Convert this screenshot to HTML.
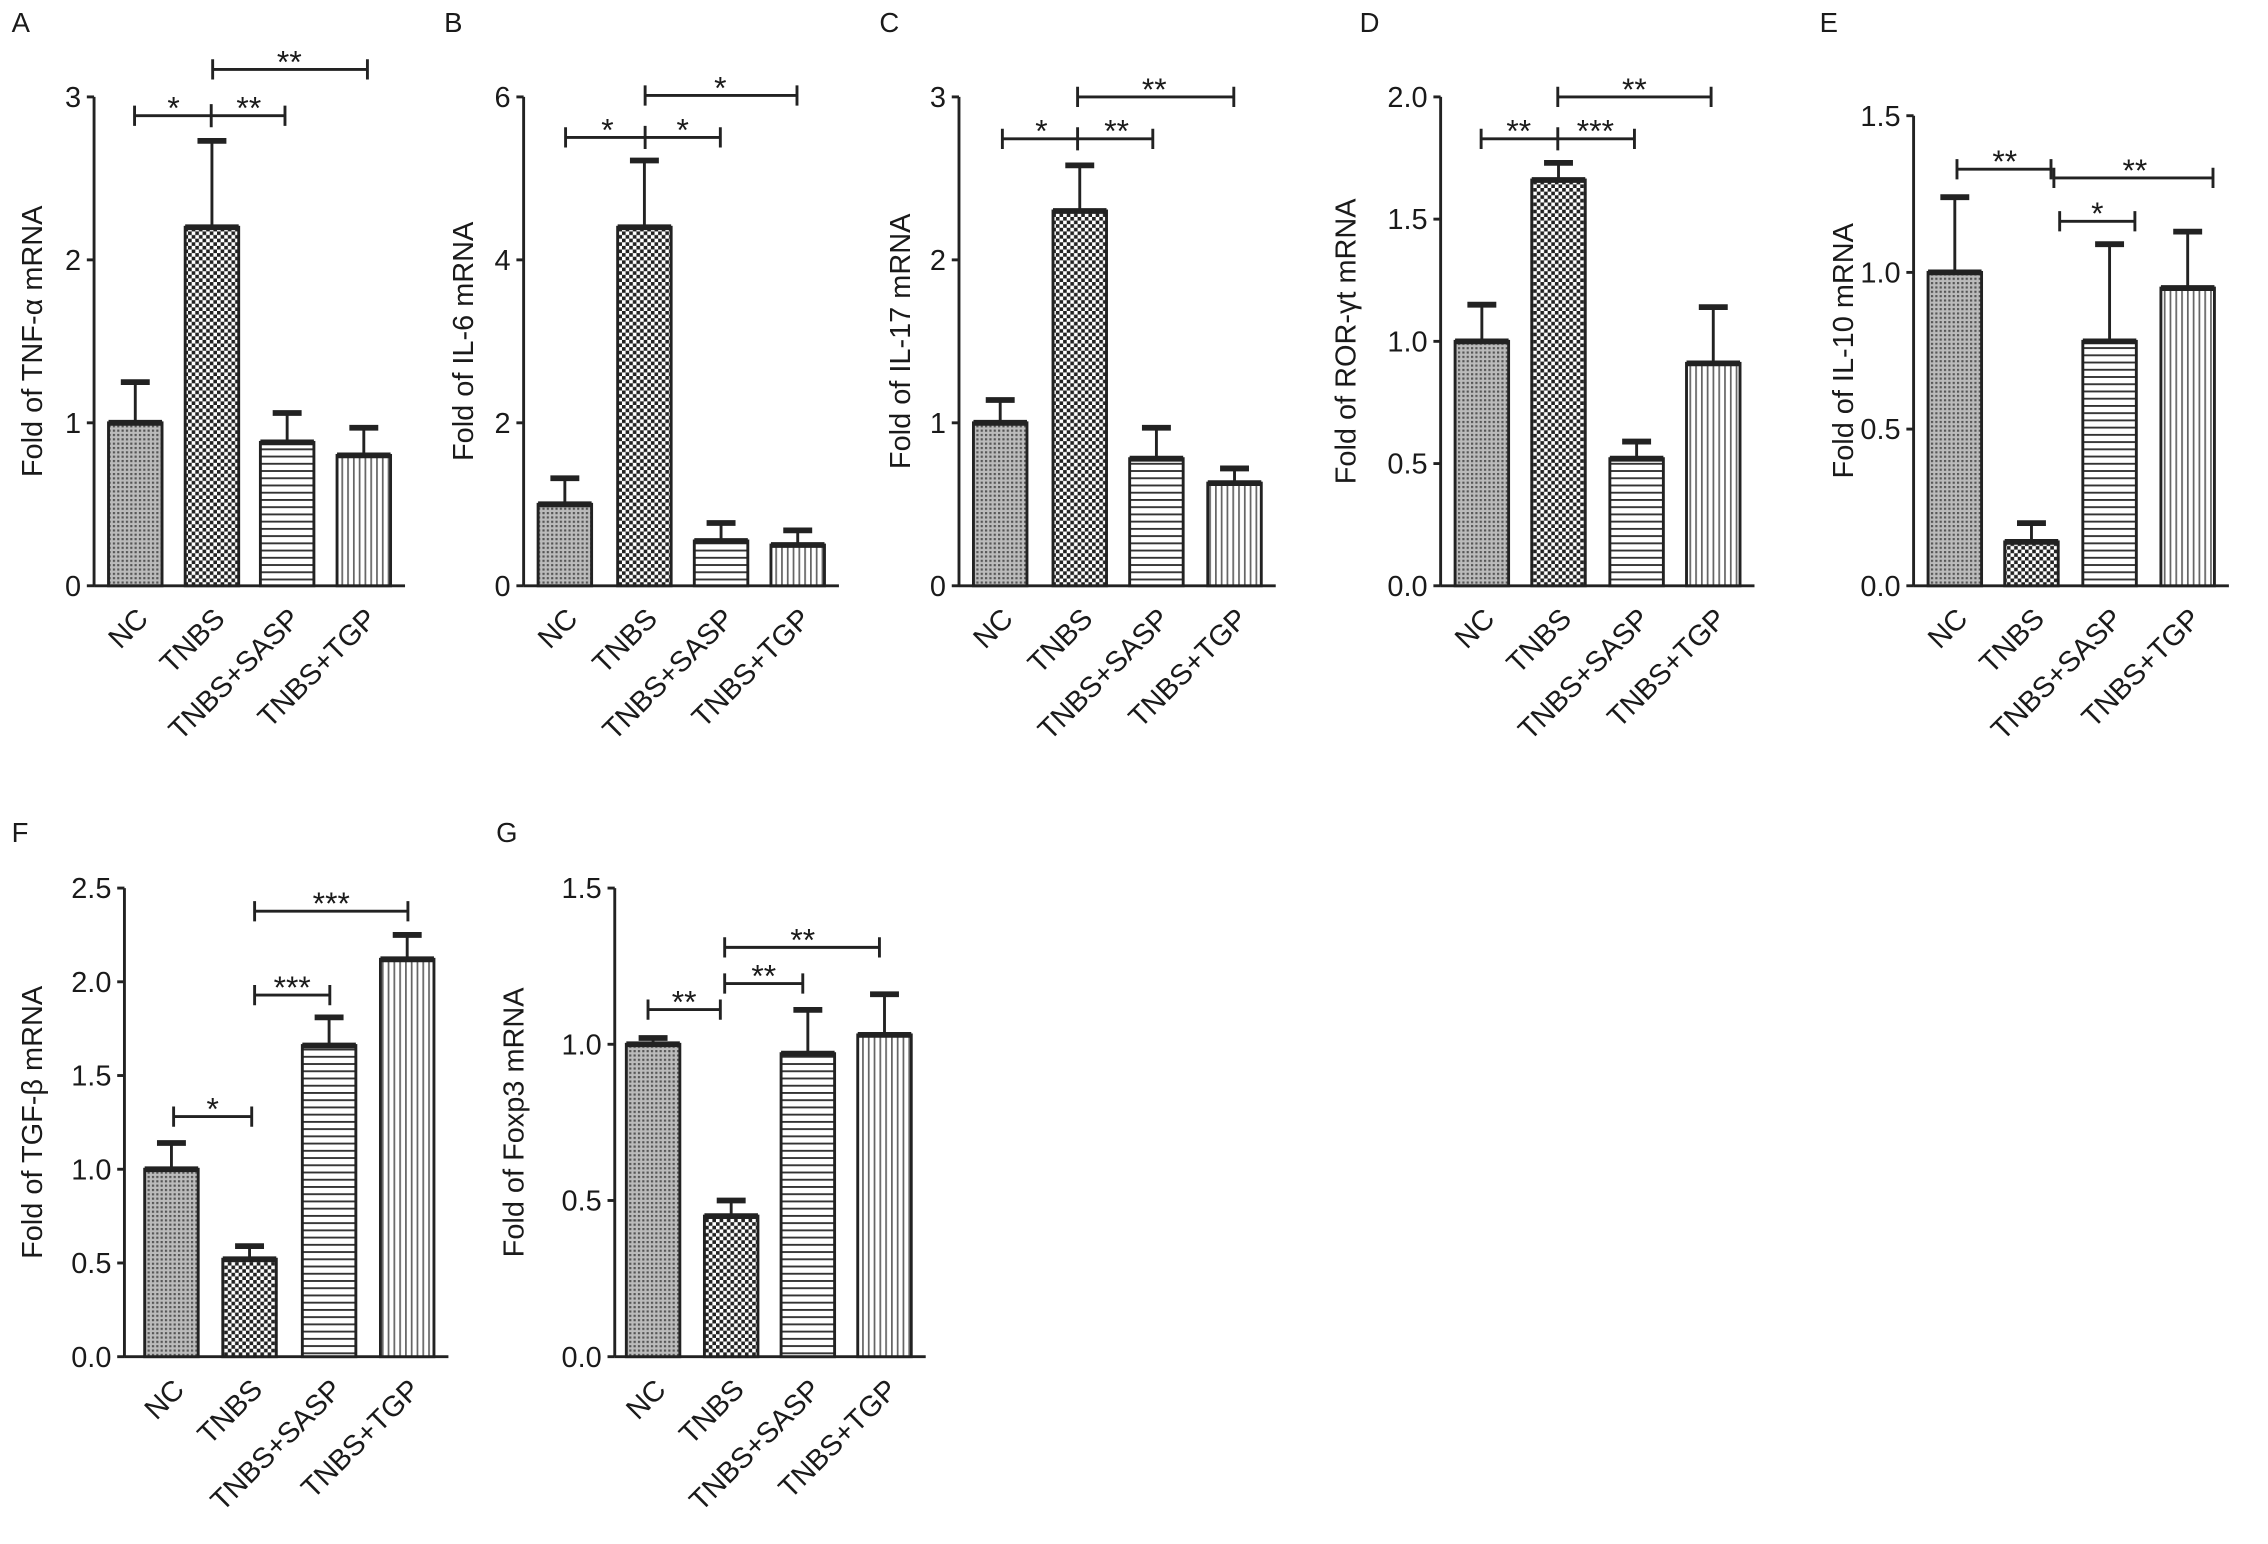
<!DOCTYPE html>
<html><head><meta charset="utf-8"><style>
html,body{margin:0;padding:0;background:#fff}
svg{display:block}
text{font-family:"Liberation Sans",Arial,sans-serif;fill:#1a1a1a}
</style></head><body>
<svg id="chart" width="2268" height="1544" viewBox="0 0 1568 1067.5" xmlns="http://www.w3.org/2000/svg">
<defs>
<pattern id="pNC" width="3" height="3" patternUnits="userSpaceOnUse"><rect width="3" height="3" fill="#bbb"/><rect width="1.5" height="1.5" fill="#555"/></pattern>
<pattern id="pTNBS" width="5" height="5" patternUnits="userSpaceOnUse"><rect width="5" height="5" fill="#fff"/><rect width="2.5" height="2.5" fill="#222"/><rect x="2.5" y="2.5" width="2.5" height="2.5" fill="#222"/></pattern>
<pattern id="pSASP" width="6" height="5" patternUnits="userSpaceOnUse"><rect width="6" height="5" fill="#fff"/><rect width="6" height="1.3" fill="#333"/></pattern>
<pattern id="pTGP" width="4" height="6" patternUnits="userSpaceOnUse"><rect width="4" height="6" fill="#fff"/><rect width="1.2" height="6" fill="#666"/></pattern>
</defs>
</svg>
<script>
const categories = ["NC","TNBS","TNBS+SASP","TNBS+TGP"];
const patterns = ["pNC","pTNBS","pSASP","pTGP"];
const valuesA = [1.0, 2.2, 0.88, 0.8];
const errA = [1.25, 2.73, 1.06, 0.97];
const ticksA = [0,1,2,3];
const valuesB = [1.0, 4.4, 0.55, 0.5];
const errB = [1.32, 5.22, 0.77, 0.68];
const ticksB = [0,2,4,6];
const valuesC = [1.0, 2.3, 0.78, 0.63];
const errC = [1.14, 2.58, 0.97, 0.72];
const ticksC = [0,1,2,3];
const valuesD = [1.0, 1.66, 0.52, 0.91];
const errD = [1.15, 1.73, 0.59, 1.14];
const ticksD = ["0.0","0.5","1.0","1.5","2.0"];
const valuesE = [1.0, 0.14, 0.78, 0.95];
const errE = [1.24, 0.2, 1.09, 1.13];
const ticksE = ["0.0","0.5","1.0","1.5"];
const valuesF = [1.0, 0.52, 1.66, 2.12];
const errF = [1.14, 0.59, 1.81, 2.25];
const ticksF = ["0.0","0.5","1.0","1.5","2.0","2.5"];
const valuesG = [1.0, 0.45, 0.97, 1.03];
const errG = [1.02, 0.5, 1.11, 1.16];
const ticksG = ["0.0","0.5","1.0","1.5"];

const NS="http://www.w3.org/2000/svg";
const svg=document.getElementById('chart');
function mk(tag,attrs,parent){const e=document.createElementNS(NS,tag);for(const k in attrs)e.setAttribute(k,attrs[k]);(parent||svg).appendChild(e);return e;}

const panels=[
 {id:'a',letter:'A',lx:8,ly:22,ax:65,y0:405,ytop:67,max:3,bx:[75,128,180,233],ticks:ticksA,vals:valuesA,errs:errA,title:'Fold of TNF-\u03b1 mRNA',tx:22,
  sig:[[93,197,80,[[120,'*'],[172,'**']],146],[147,254,48,[[200,'**']]]]},
 {id:'b',letter:'B',lx:307,ly:22,ax:362,y0:405,ytop:67,max:6,bx:[372,427,480,533],ticks:ticksB,vals:valuesB,errs:errB,title:'Fold of IL-6 mRNA',tx:320,
  sig:[[391,498,95,[[420,'*'],[472,'*']],446],[446,551,66,[[498,'*']]]]},
 {id:'c',letter:'C',lx:608,ly:22,ax:663,y0:405,ytop:67,max:3,bx:[673,728,781,835],ticks:ticksC,vals:valuesC,errs:errC,title:'Fold of IL-17 mRNA',tx:622,
  sig:[[693,797,96,[[720,'*'],[772,'**']],745],[745,853,67,[[798,'**']]]]},
 {id:'d',letter:'D',lx:940,ly:22,ax:996,y0:405,ytop:67,max:2,bx:[1006,1059,1113,1166],ticks:ticksD,vals:valuesD,errs:errD,title:'Fold of ROR-\u03b3t mRNA',tx:930,
  sig:[[1024,1130,96,[[1050,'**'],[1103,'***']],1077],[1077,1183,67,[[1130,'**']]]]},
 {id:'e',letter:'E',lx:1258,ly:22,ax:1323,y0:405,ytop:80,max:1.5,bx:[1333,1386,1440,1494],ticks:ticksE,vals:valuesE,errs:errE,title:'Fold of IL-10 mRNA',tx:1274,
  sig:[[1353,1418,117,[[1386,'**']]],[1420,1530,123,[[1476,'**']]],[1424,1476,153,[[1450,'*']]]]},
 {id:'f',letter:'F',lx:8,ly:582,ax:86,y0:938,ytop:614,max:2.5,bx:[100,154,209,263],ticks:ticksF,vals:valuesF,errs:errF,title:'Fold of TGF-\u03b2 mRNA',tx:22,
  sig:[[120,174,772,[[147,'*']]],[176,228,688,[[202,'***']]],[176,282,630,[[229,'***']]]]},
 {id:'g',letter:'G',lx:343,ly:582,ax:425,y0:938,ytop:614,max:1.5,bx:[433,487,540,593],ticks:ticksG,vals:valuesG,errs:errG,title:'Fold of Foxp3 mRNA',tx:355,
  sig:[[448,498,698,[[473,'**']]],[501,555,680,[[528,'**']]],[501,608,655,[[555,'**']]]]}
];
const BW=37;
panels.forEach(p=>{
 const g=mk('g',{});
 
 
 const yS=v=>p.y0-(v/p.max)*(p.y0-p.ytop);
 const L=mk('text',{x:p.lx,y:p.ly,'font-size':19},g);L.textContent=p.letter;
 
 
 const ax=mk('line',{x1:p.ax,y1:p.ytop,x2:p.ax,y2:p.y0,stroke:'#222','stroke-width':2},g);
 
 
 const xax=mk('line',{x1:p.ax,y1:p.y0,x2:p.bx[3]+BW+10,y2:p.y0,stroke:'#222','stroke-width':2},g);
 
 
 p.ticks.forEach((t,i)=>{
  const v=parseFloat(t);const y=yS(v);
  mk('line',{x1:p.ax-5,y1:y,x2:p.ax,y2:y,stroke:'#222','stroke-width':2},g);
  const tt=mk('text',{x:p.ax-9,y:y+7,'font-size':20,'text-anchor':'end'},g);tt.textContent=t;
  
  
 });
 const cy=(p.y0+p.ytop)/2;
 const yt=mk('text',{x:p.tx,y:cy,'font-size':20,'text-anchor':'middle',transform:`rotate(-90 ${p.tx} ${cy})`,dy:7},g);
 yt.textContent=p.title;
 
 
 categories.forEach((c,i)=>{
  const x=p.bx[i],cx=x+BW/2,yv=yS(p.vals[i]),ye=yS(p.errs[i]);
  const el=mk('line',{x1:cx,y1:yv,x2:cx,y2:ye,stroke:'#222','stroke-width':2},g);
  
  
  mk('line',{x1:cx-10,y1:ye,x2:cx+10,y2:ye,stroke:'#222','stroke-width':4},g);
  const r=mk('rect',{x:x,y:yv,width:BW,height:p.y0-yv,fill:`url(#${patterns[i]})`,stroke:'#222','stroke-width':2},g);
  
  
  mk('line',{x1:x,y1:yv,x2:x+BW,y2:yv,stroke:'#222','stroke-width':4},g);
  const lx=cx+10,ly=p.y0+24;
  const lt=mk('text',{x:lx,y:ly,'font-size':20,'text-anchor':'end',transform:`rotate(-45 ${lx} ${ly})`},g);
  lt.textContent=c;
  
  
 });
 p.sig.forEach(s=>{
  const [x1,x2,y,stars,mid]=s;
  const sl=mk('path',{d:`M${x1} ${y-7}V${y+7}M${x1} ${y}H${x2}M${x2} ${y-7}V${y+7}`+(mid?`M${mid} ${y-8}V${y+8}`:''),stroke:'#222','stroke-width':2,fill:'none'},g);
  
  
  stars.forEach(st=>{
   const t=mk('text',{x:st[0],y:y+2,'font-size':22,'text-anchor':'middle'},g);t.textContent=st[1];
   
   
  });
 });
});
</script>
</body></html>
